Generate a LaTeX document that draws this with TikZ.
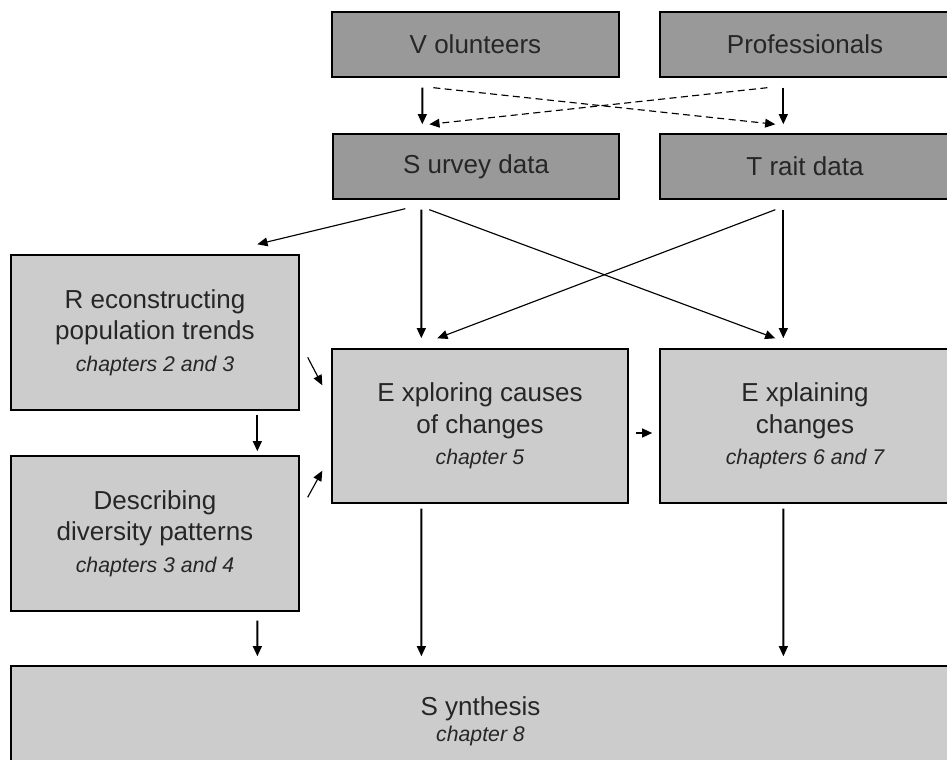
\documentclass[tikz,border=0pt]{standalone}
\usepackage{fontspec}
\setmainfont{Liberation Sans}
\usetikzlibrary{arrows.meta}
\definecolor{darkbox}{HTML}{999999}
\definecolor{lightbox}{HTML}{CCCCCC}
\newcommand{\chaptext}[1]{{\fontsize{12.1}{14}\selectfont\itshape #1}}
\begin{document}
\begin{tikzpicture}[x=0.02cm,y=-0.02cm,
        box/.style={draw=black,line width=0.8pt,inner sep=0pt,text=black!85,
            align=center,font=\fontsize{14.8}{18}\selectfont},
        source/.style={box,fill=darkbox},
        task/.style={box,fill=lightbox},
        arr/.style={line width=1.15pt,-{Triangle[length=5.8pt,width=5pt]}},
        darr/.style={line width=0.65pt,-{Triangle[length=5.8pt,width=5pt]}},
        dasharr/.style={darr,dash pattern=on 4pt off 2.5pt}]
\useasboundingbox (0,0) rectangle (947,760);
\clip (0,0) rectangle (947,760);

\node[source,minimum width=5.74cm,minimum height=1.3cm] (vol) at (475.5,44.5) {V olunteers};
\node[source,minimum width=5.8cm,minimum height=1.3cm] (prof) at (805,44.5) {Professionals};
\node[source,minimum width=5.72cm,minimum height=1.3cm] (survey) at (476,166.5) {S urvey data};
\node[source,minimum width=5.8cm,minimum height=1.3cm] (trait) at (805,166.5) {T rait data};

\node[task,minimum width=5.76cm,minimum height=3.1cm] (recon) at (155,332.5)
    {R econstructing\\population trends\\\chaptext{chapters 2 and 3}};
\node[task,minimum width=5.76cm,minimum height=3.1cm] (desc) at (155,533.5)
    {Describing\\diversity patterns\\\chaptext{chapters 3 and 4}};
\node[task,minimum width=5.92cm,minimum height=3.08cm] (explor) at (480,426)
    {E xploring causes\\of changes\\\chaptext{chapter 5}};
\node[task,minimum width=5.8cm,minimum height=3.08cm] (expl) at (805,426)
    {E xplaining\\changes\\\chaptext{chapters 6 and 7}};
\node[task,minimum width=18.78cm,minimum height=2.2cm,font=\fontsize{14.8}{14.6}\selectfont] (synth) at (480.5,721)
    {S ynthesis\\\chaptext{chapter 8}};

\draw[arr] ([shift={(91,10)}]vol.south west) -- ([shift={(90,-9)}]survey.north west);
\draw[arr] ([shift={(124,10)}]prof.south west) -- ([shift={(124,-9)}]trait.north west);
\draw[dasharr] ([shift={(102,10)}]vol.south west) -- ([shift={(116,-9)}]trait.north west);
\draw[dasharr] ([shift={(108,10)}]prof.south west) -- ([shift={(97,-9)}]survey.north west);

\draw[darr] ([shift={(73,9)}]survey.south west) -- ([shift={(247,-10)}]recon.north west);
\draw[arr] ([shift={(89,10)}]survey.south west) -- ([shift={(90,-10)}]explor.north west);
\draw[darr] ([shift={(97,10)}]survey.south west) -- ([shift={(116,-10)}]expl.north west);
\draw[darr] ([shift={(116,10)}]trait.south west) -- ([shift={(106,-10)}]explor.north west);
\draw[arr] ([shift={(124,10)}]trait.south west) -- ([shift={(124,-10)}]expl.north west);

\draw[darr] ([shift={(8,103)}]recon.north east) -- ([shift={(-9,37)}]explor.north west);
\draw[arr] ([shift={(247,4)}]recon.south west) -- ([shift={(247,-4)}]desc.north west);
\draw[darr] ([shift={(8,42)}]desc.north east) -- ([shift={(-9,-33)}]explor.south west);
\draw[arr] ([shift={(7,7)}]explor.east) -- ([shift={(-7,7)}]expl.west);

\draw[arr] ([shift={(247,9)}]desc.south west) -- ([shift={(247,-9)}]synth.north west);
\draw[arr] ([shift={(90,5)}]explor.south west) -- ([shift={(411,-9)}]synth.north west);
\draw[arr] ([shift={(124,5)}]expl.south west) -- ([shift={(773,-9)}]synth.north west);
\end{tikzpicture}
\end{document}
